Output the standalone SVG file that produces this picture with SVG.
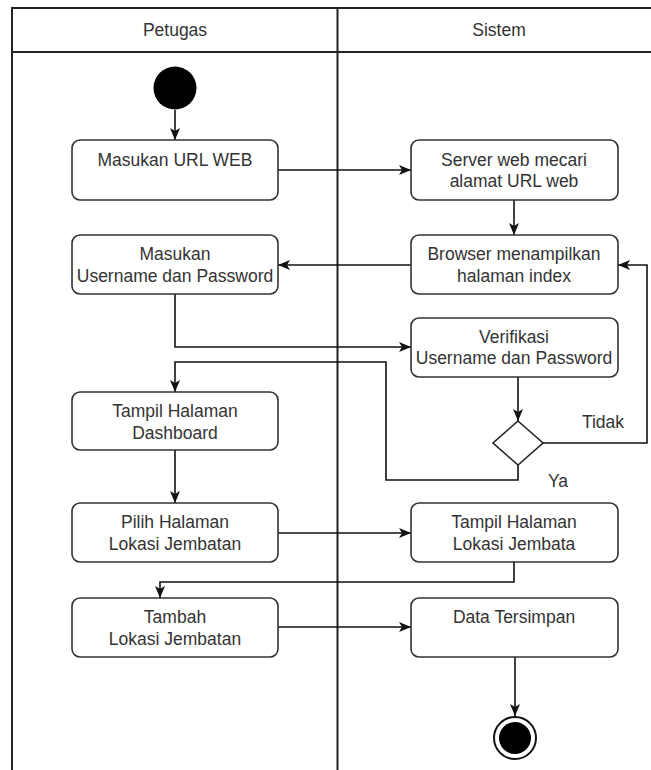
<svg xmlns="http://www.w3.org/2000/svg" width="651" height="770" viewBox="0 0 651 770">
<style>
.lane{fill:none;stroke:#222;stroke-width:2}
.box{fill:#fff;stroke:#333;stroke-width:1.6}
.t{font-family:"Liberation Sans",Arial,sans-serif;font-size:17.5px;fill:#333;text-anchor:middle;dominant-baseline:central}
.c{fill:none;stroke:#111;stroke-width:1.6}
</style>
<defs>
<marker id="arr" markerUnits="userSpaceOnUse" markerWidth="12" markerHeight="12" viewBox="0 0 12 12" refX="12" refY="6" orient="auto">
<path d="M0,1 L12,6 L0,11 L3,6 z" fill="#111"/>
</marker>
</defs>
<rect width="651" height="770" fill="#fff"/>
<g id="swimlanes">
<rect class="lane" x="12" y="8" width="660" height="780"/>
<line class="lane" x1="12" y1="52" x2="660" y2="52"/>
<line class="lane" x1="337.5" y1="8" x2="337.5" y2="770"/>
<text class="t" x="175" y="30">Petugas</text>
<text class="t" x="499" y="30">Sistem</text>
</g>
<g id="connectors">
<line class="c" x1="175" y1="110" x2="175" y2="140" marker-end="url(#arr)"/>
<line class="c" x1="278" y1="170" x2="411" y2="170" marker-end="url(#arr)"/>
<line class="c" x1="514" y1="200" x2="514" y2="235" marker-end="url(#arr)"/>
<line class="c" x1="411" y1="265" x2="278" y2="265" marker-end="url(#arr)"/>
<polyline class="c" points="175,294 175,347 411,347" marker-end="url(#arr)"/>
<line class="c" x1="518" y1="377" x2="518" y2="421" marker-end="url(#arr)"/>
<polyline class="c" points="543,443 647,443 647,265 618,265" marker-end="url(#arr)"/>
<polyline class="c" points="518,465 518,480 386,480 386,362 175,362 175,392" marker-end="url(#arr)"/>
<line class="c" x1="175" y1="450" x2="175" y2="503" marker-end="url(#arr)"/>
<line class="c" x1="278" y1="533" x2="411" y2="533" marker-end="url(#arr)"/>
<polyline class="c" points="514,562 514,582 160,582 160,598" marker-end="url(#arr)"/>
<line class="c" x1="278" y1="627" x2="411" y2="627" marker-end="url(#arr)"/>
<line class="c" x1="515" y1="657" x2="515" y2="716" marker-end="url(#arr)"/>
<text class="t" x="603" y="422">Tidak</text>
<text class="t" x="558" y="481">Ya</text>
</g>
<g id="start"><circle cx="175" cy="88" r="21.5" fill="#000"/></g>
<g id="n1"><rect class="box" x="72" y="140" width="206" height="60" rx="8"/><text class="t" x="175" y="160">Masukan URL WEB</text></g>
<g id="n2"><rect class="box" x="411" y="140" width="207" height="60" rx="8"/><text class="t" x="514" y="160">Server web mecari</text><text class="t" x="514" y="181">alamat URL web</text></g>
<g id="n3"><rect class="box" x="411" y="235" width="207" height="59" rx="8"/><text class="t" x="514" y="254">Browser menampilkan</text><text class="t" x="514" y="276">halaman index</text></g>
<g id="n4"><rect class="box" x="72" y="235" width="206" height="59" rx="8"/><text class="t" x="175" y="254">Masukan</text><text class="t" x="175" y="276">Username dan Password</text></g>
<g id="n5"><rect class="box" x="411" y="318" width="207" height="59" rx="8"/><text class="t" x="514" y="337">Verifikasi</text><text class="t" x="514" y="358">Username dan Password</text></g>
<g id="decision"><polygon points="518,421 543,443 518,465 493,443" fill="#fff" stroke="#222" stroke-width="1.6"/></g>
<g id="n6"><rect class="box" x="72" y="392" width="206" height="58" rx="8"/><text class="t" x="175" y="411">Tampil Halaman</text><text class="t" x="175" y="433">Dashboard</text></g>
<g id="n7"><rect class="box" x="72" y="503" width="206" height="59" rx="8"/><text class="t" x="175" y="522">Pilih Halaman</text><text class="t" x="175" y="544">Lokasi Jembatan</text></g>
<g id="n8"><rect class="box" x="411" y="503" width="207" height="59" rx="8"/><text class="t" x="514" y="522">Tampil Halaman</text><text class="t" x="514" y="544">Lokasi Jembata</text></g>
<g id="n9"><rect class="box" x="72" y="598" width="206" height="59" rx="8"/><text class="t" x="175" y="617">Tambah</text><text class="t" x="175" y="639">Lokasi Jembatan</text></g>
<g id="n10"><rect class="box" x="411" y="598" width="207" height="59" rx="8"/><text class="t" x="514" y="617">Data Tersimpan</text></g>
<g id="end"><circle cx="515" cy="738" r="21" fill="#fff" stroke="#111" stroke-width="2"/><circle cx="515" cy="738" r="16" fill="#000"/></g>
</svg>
